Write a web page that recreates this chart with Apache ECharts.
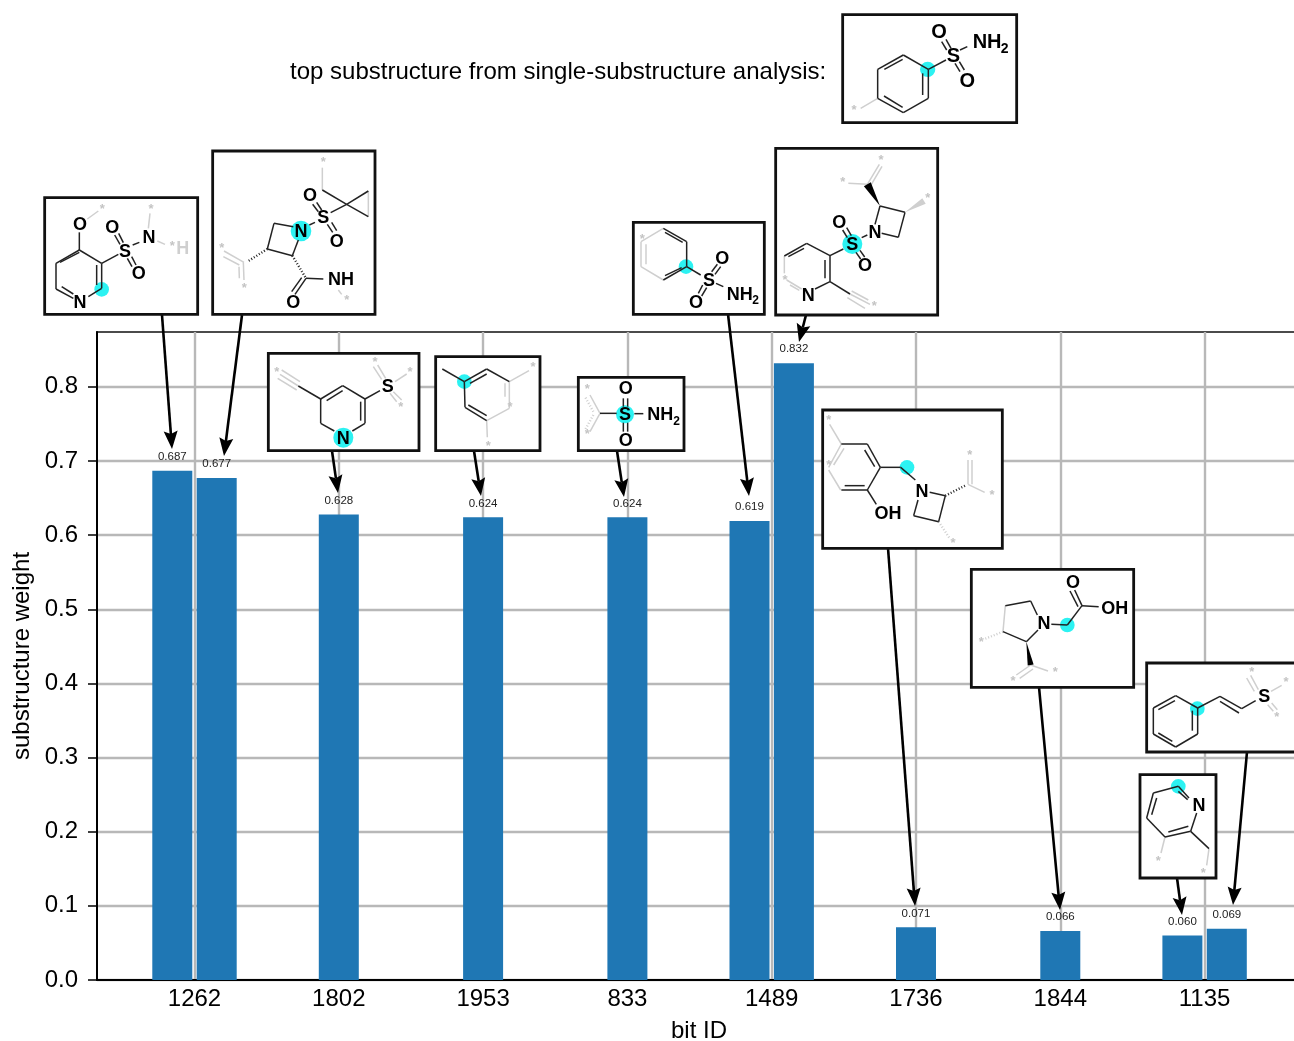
<!DOCTYPE html>
<html>
<head>
<meta charset="utf-8">
<style>html,body{margin:0;padding:0;background:#fff}#c{width:1294px;height:1041px}</style>
<script src="https://cdn.jsdelivr.net/npm/echarts@6/dist/echarts.min.js"></script>
</head>
<body>
<div id="c"></div>
<script>
// ---- chart data ----
const bitIds = ['1262','1802','1953','833','1489','1736','1844','1135'];
const barTick = [0,0,1,2,3,4,4,5,6,7,7];
const barSide = [-1,1,0,0,0,-1,1,0,0,-1,1];
const barValues = [0.687,0.677,0.628,0.624,0.624,0.619,0.832,0.071,0.066,0.060,0.069];
const yTicks = [0,0.1,0.2,0.3,0.4,0.5,0.6,0.7,0.8];

const FONT = '"Liberation Sans", Arial, sans-serif';
const BOND = '#222', GRAY = '#cfcfcf', CYAN = '#2cf2f2';
const els = [];
function line(x1,y1,x2,y2,color,w,z,dash){
  els.push({type:'line',silent:true,z:z,shape:{x1,y1,x2,y2},style:{stroke:color,lineWidth:w,lineDash:dash||null,lineCap:'butt'}});
}
function text(s,x,y,size,color,weight,z,align){
  els.push({type:'text',silent:true,z:z,x:x,y:y,style:{text:s,fontFamily:FONT,fontSize:size,fontWeight:weight||'normal',fill:color,align:align||'center',verticalAlign:'middle'}});
}
function mol(m){
  const [ox,oy]=m.o, X=v=>ox+v/3, Y=v=>oy+v/3;
  const [a,b,c,d]=m.box;
  els.push({type:'rect',silent:true,z:50,shape:{x:X(a),y:Y(b),width:(c-a)/3,height:(d-b)/3},style:{fill:'#fff',stroke:'#111',lineWidth:2.8}});
  (m.c||[]).forEach(p=>els.push({type:'circle',silent:true,z:51,shape:{cx:X(p[0]),cy:Y(p[1]),r:p[2]/3},style:{fill:CYAN}}));
  (m.g||[]).forEach(s=>line(X(s[0]),Y(s[1]),X(s[2]),Y(s[3]),GRAY,1.5,52));
  (m.k||[]).forEach(s=>line(X(s[0]),Y(s[1]),X(s[2]),Y(s[3]),BOND,1.5,53));
  (m.hk||[]).forEach(s=>line(X(s[0]),Y(s[1]),X(s[2]),Y(s[3]),BOND,2.4,53,[1,2]));
  (m.hg||[]).forEach(s=>line(X(s[0]),Y(s[1]),X(s[2]),Y(s[3]),GRAY,2.4,52,[1,2]));
  (m.w||[]).forEach(s=>{
    const dx=s[2]-s[0],dy=s[3]-s[1],l=Math.hypot(dx,dy),nx=-dy/l*s[4],ny=dx/l*s[4];
    els.push({type:'polygon',silent:true,z:53,shape:{points:[[X(s[0]),Y(s[1])],[X(s[2]+nx),Y(s[3]+ny)],[X(s[2]-nx),Y(s[3]-ny)]]},style:{fill:s[5]||'#000'}});
  });
  (m.t||[]).forEach(t=>text(t[0],X(t[1]),Y(t[2])+1,t[3]||18,t[4]||'#000','bold',54,t[5]));
  (m.s||[]).forEach(p=>text('*',X(p[0]),Y(p[1])+2.5,13,'#c4c4c4','bold',54));
}
function arrow(x1,y1,x2,y2){
  const dx=x2-x1,dy=y2-y1,l=Math.hypot(dx,dy),ux=dx/l,uy=dy/l,hl=18,hw=7,nl=15;
  const bx=x2-ux*hl,by=y2-uy*hl;
  line(x1,y1,x2-ux*nl,y2-uy*nl,'#000',2.6,45);
  els.push({type:'polygon',silent:true,z:46,shape:{points:[[x2,y2],[bx-uy*hw,by+ux*hw],[x2-ux*nl,y2-uy*nl],[bx+uy*hw,by-ux*hw]]},style:{fill:'#000'}});
}
[[162,315,172,449],[242,315,224,456],[332,451,338,493],[474,451,481,496],[617,451,624,497],
 [728,314,749,496],[806,315,799,342],[888,548,915,906],[1039,687,1060,910],[1177,878,1182,915],[1247,752,1233,905]]
 .forEach(a=>arrow(...a));

const molecules = [
 {o:[840,10],box:[8,14,530,338],c:[[263,178,23]],
  k:[[113,178,190,135],[190,135,265,178],[265,178,265,265],[265,265,190,308],[190,308,113,265],[113,265,113,178],
     [133,178,188,148],[248,190,248,255],[132,258,188,292],[265,178,318,150],[305,95,320,120],[318,88,333,115],
     [345,160,360,185],[358,155,373,180],[360,120,382,110]],
  g:[[113,265,62,295]],s:[[42,295]],
  t:[['S',340,137,20],['O',297,65,20],['O',382,210,20],['NH',398,95,20,'#000','left'],['2',494,114,14]]},
 {o:[40,145],box:[14,158,473,508],c:[[185,433,22]],
  k:[[118,315,185,355],[185,355,185,430],[185,430,145,455],[100,460,48,432],[48,432,48,355],[48,355,118,315],
     [170,360,170,420],[65,425,100,447],[60,352,118,322],[118,315,118,262],[185,355,235,328],
     [224,270,240,298],[236,265,250,293],[262,340,276,365],[275,335,288,360],[278,300,298,292]],
  g:[[142,222,175,198],[325,250,330,205],[352,288,375,298]],s:[[187,185],[333,185],[397,296]],
  t:[['N',120,472],['O',120,237],['S',255,318],['O',217,247],['O',296,384],['N',327,275],['H',428,308,18,'#cfcfcf']]},
 {o:[40,145],box:[518,18,1005,508],c:[[783,258,31]],
  k:[[847,135,920,178],[920,178,985,138],[985,215,920,178],[920,178,872,203],[818,178,835,200],[830,172,845,195],
     [862,238,878,262],[875,232,890,257],[825,232,808,240],[760,245,702,235],[702,235,682,312],[682,312,757,332],[757,332,775,285],
     [798,400,850,402],[798,400,765,448],[785,398,755,440]],
  g:[[847,68,847,135],[985,138,985,215],[612,352,552,318],[598,360,550,335],[610,352,612,405],[597,365,598,400],[895,435,905,448]],
  hk:[[682,312,622,350],[757,332,798,400]],
  s:[[850,45],[545,302],[613,422],[920,460]],
  t:[['O',810,150],['S',850,215],['O',890,288],['N',783,258],['NH',903,403],['O',760,472]]},
 {o:[630,145],box:[10,232,403,508],c:[[168,365,22]],
  k:[[100,250,170,290],[105,262,158,292],[170,290,170,365],[170,365,100,405],[105,392,155,368],[170,365,212,390],
     [245,380,262,358],[255,388,272,365],[218,420,205,445],[230,428,215,453],[258,415,280,425]],
  g:[[33,290,100,250],[33,290,33,365],[48,298,48,358],[100,405,33,365]],s:[[37,277]],
  t:[['S',237,405],['O',277,340],['O',198,472],['NH',290,447,18,'#000','left'],['2',377,464,12]]},
 {o:[630,145],box:[437,10,923,510],c:[[667,297,30]],
  k:[[750,183,825,202],[825,202,805,277],[805,277,755,265],[750,183,735,238],[712,270,695,278],[640,312,600,332],
     [600,332,530,295],[522,310,475,335],[530,295,463,333],[555,432,600,410],[600,410,600,332],[585,400,585,345],[600,410,660,447],
     [638,255,652,278],[650,248,664,272],[678,322,692,342],[690,316,704,336]],
  g:[[712,118,655,115],[712,118,748,58],[722,122,756,64],[463,333,463,385],[470,405,515,432],[480,420,508,436],[660,447,720,478],[665,438,715,465],[652,458,705,490]],
  w:[[750,183,712,118,12],[825,202,882,168,10,'#cfcfcf']],
  s:[[753,38],[638,105],[893,152],[733,476],[465,400]],
  t:[['S',667,297],['O',628,230],['O',705,360],['N',735,260],['N',535,450]]},
 {o:[265,350],box:[10,10,462,302],c:[[235,263,30]],
  k:[[167,147,233,107],[185,152,233,122],[233,107,300,147],[300,147,300,220],[287,155,287,212],[300,220,262,243],[208,243,167,220],[167,220,167,147],[167,147,100,108],[300,147,345,122]],
  g:[[100,108,45,73],[105,95,50,60],[95,120,38,85],[350,88,325,50],[362,85,338,45],[375,130,395,155],[385,125,410,150],[390,95,425,72]],
  s:[[35,60],[435,60],[330,30],[407,165]],
  t:[['N',235,263],['S',368,107]]},
 {o:[265,350],box:[512,20,825,302],c:[[598,95,22]],
  k:[[532,57,598,95],[598,95,665,57],[615,100,665,72],[665,57,733,95],[665,212,600,172],[610,165,665,197],[600,172,598,95]],
  g:[[733,95,792,62],[733,95,733,175],[720,100,720,140],[733,175,665,212],[665,212,667,262]],
  s:[[804,45],[735,165],[670,282]]},
 {o:[575,370],box:[10,22,327,242],c:[[150,133,27]],
  k:[[178,131,205,131],[145,85,145,110],[158,85,158,110],[145,158,145,185],[158,158,158,185],[75,130,125,130]],
  g:[[75,130,45,75],[75,130,45,185]],
  hg:[[55,125,30,80],[55,135,30,180]],
  s:[[37,52],[37,187]],
  t:[['S',150,133],['O',152,55],['O',152,210],['NH',217,133,18,'#000','left'],['2',305,152,12]]},
 {o:[818,405],box:[14,15,553,430],c:[[267,187,22]],
  k:[[70,117,148,117],[148,117,187,187],[140,135,170,185],[187,187,148,255],[148,255,70,255],[80,242,140,242],[187,187,248,187],[248,187,292,225],[148,255,175,298],
     [335,262,382,272],[382,272,362,350],[362,350,287,332],[287,332,300,285]],
  g:[[70,117,32,187],[78,130,47,180],[32,195,68,255],[70,117,35,58],[450,238,450,165],[462,238,462,165],[450,238,500,262]],
  hk:[[382,272,445,240]],hg:[[362,350,395,400]],
  s:[[32,38],[32,175],[455,145],[522,265],[405,408]],
  t:[['N',312,258],['OH',210,325]]},
 {o:[968,565],box:[10,13,497,367],c:[[298,180,22]],
  k:[[208,150,188,108],[188,108,112,122],[105,200,175,230],[175,230,210,195],[250,178,298,180],[298,180,342,122],[342,122,392,125],[342,122,320,75],[330,125,306,78]],
  g:[[112,122,105,200],[188,300,240,318],[188,300,145,330],[195,312,155,340]],
  hg:[[105,200,50,222]],
  w:[[175,230,188,300,9]],
  s:[[262,315],[135,342],[40,225]],
  t:[['N',228,175],['OH',440,128],['O',315,52]]},
 {o:[1135,658],box:[35,15,500,282],c:[[187,152,22]],
  k:[[188,150,188,228],[188,228,122,267],[122,267,55,228],[55,228,55,150],[55,150,122,113],[122,113,188,150],[172,218,172,158],[112,250,70,225],[70,155,120,128],
     [188,150,255,115],[255,115,320,152],[255,130,312,165],[320,152,362,128]],
  g:[[370,95,347,52],[358,100,335,60],[408,100,440,82],[398,140,415,160],[410,135,427,155]],
  s:[[350,37],[453,65],[425,170]],
  t:[['S',388,115]]},
 {o:[1135,658],box:[15,350,243,660],c:[[130,385,22]],
  k:[[130,385,55,405],[55,405,35,480],[65,420,50,470],[35,480,90,537],[90,537,167,520],[100,522,160,505],[167,520,185,465],[130,385,162,420],[130,400,158,425],[167,520,222,572]],
  g:[[222,572,215,622],[90,537,78,585]],
  s:[[205,640],[70,603]],
  t:[['N',192,440]]}
];
molecules.forEach(mol);
text('top substructure from single-substructure analysis:',290,72,24,'#000','normal',60,'left');

const chart = echarts.init(document.getElementById('c'),null,{renderer:'canvas'});
const TICK_STEP = 144.3, GRID_L = 97, GRID_W = 1205, FIRST_TICK = 194.5, PAIR = 22.2/TICK_STEP;
const yMax = 0.874;
chart.setOption({
  animation:false,
  backgroundColor:'#fff',
  grid:{show:true,outerBoundsMode:'none',left:GRID_L,top:332,width:GRID_W,height:648,borderColor:'#111',borderWidth:1.5,backgroundColor:'transparent'},
  xAxis:{type:'value',min:(GRID_L-FIRST_TICK)/TICK_STEP,max:(GRID_L+GRID_W-FIRST_TICK)/TICK_STEP,
    axisLine:{show:true,onZero:false,lineStyle:{color:'#000',width:2}},
    axisTick:{show:false,customValues:bitIds.map((_,i)=>i)},
    axisLabel:{show:true,customValues:bitIds.map((_,i)=>i),formatter:v=>bitIds[Math.round(v)],fontFamily:FONT,fontSize:24,color:'#000',margin:7,hideOverlap:false},
    splitLine:{show:true,lineStyle:{color:'#b8b8b8',width:2.4}}},
  yAxis:{type:'value',min:0,max:yMax,
    axisLine:{show:true,onZero:false,lineStyle:{color:'#000',width:2}},
    axisTick:{show:true,customValues:yTicks,length:9,lineStyle:{color:'#000',width:1.5}},
    axisLabel:{show:true,customValues:yTicks,formatter:v=>v.toFixed(1),fontFamily:FONT,fontSize:24,color:'#000',margin:19},
    splitLine:{show:true,lineStyle:{color:'#b8b8b8',width:2.4}}},
  series:[{type:'bar',barWidth:40,itemStyle:{color:'#1f77b4'},
    data:barValues.map((v,i)=>[barTick[i]+barSide[i]*PAIR,v]),
    label:{show:true,position:'top',distance:8,fontFamily:FONT,fontSize:11.5,color:'#222',formatter:p=>p.value[1].toFixed(3)}}],
  graphic:{elements:els.concat([
    {type:'text',silent:true,z:60,x:699,y:1031,style:{text:'bit ID',fontFamily:FONT,fontSize:24,fill:'#000',align:'center',verticalAlign:'middle'}},
    {type:'text',silent:true,z:60,x:22,y:656,rotation:Math.PI/2,style:{text:'substructure weight',fontFamily:FONT,fontSize:24,fill:'#000',align:'center',verticalAlign:'middle'}}
  ])}
});
</script>
</body>
</html>
